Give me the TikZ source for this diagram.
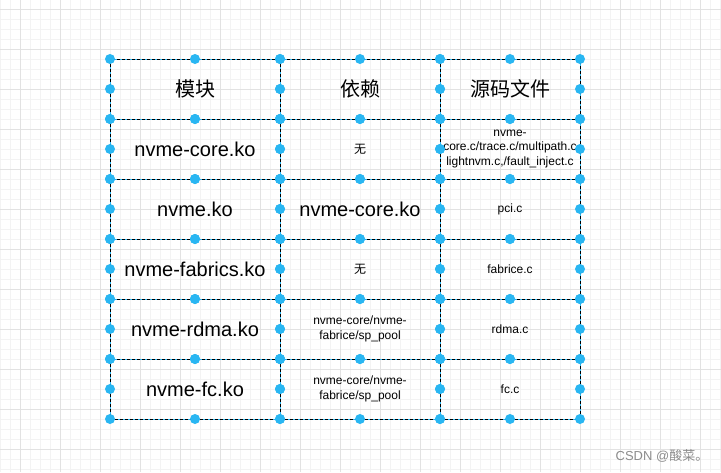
\documentclass[tikz,border=0pt]{standalone}
\usepackage{fontspec}
\setmainfont{Liberation Sans}
\newfontfamily\cjk{Noto Sans CJK SC}
\usetikzlibrary{positioning}
\definecolor{selblue}{HTML}{29B6F2}
\definecolor{gridmajor}{HTML}{E2E2E2}
\definecolor{gridminor}{HTML}{F3F3F3}
\tikzset{
  cell/.style={draw=selblue, line width=1pt, minimum height=60pt, inner sep=0pt,
    outer sep=0pt, align=center,
    postaction={draw=black, line width=0.6pt, dash pattern=on 3pt off 2pt}},
  mod/.style={cell, minimum width=170pt},
  dep/.style={cell, minimum width=160pt},
  src/.style={cell, minimum width=140pt},
  big/.style={font=\fontsize{20}{24}\selectfont},
  small/.style={font=\fontsize{12}{14.5}\selectfont},
  handle/.style={fill=selblue},
  watermark/.style={text=black!45, font=\fontsize{13}{15}\selectfont}
}

\begin{document}
\begin{tikzpicture}[x=1pt, y=1pt, node distance=60pt, on grid]
  \useasboundingbox (0,0) rectangle (721,-472);
  \fill[white] (0,0) rectangle (721,-472);
  % background grid
  \foreach \x in {0,10,...,720} \draw[gridminor, line width=1pt] (\x,0) -- (\x,-472);
  \foreach \y in {9.5,19.5,...,469.5} \draw[gridminor, line width=1pt] (0,-\y) -- (721,-\y);
  \foreach \x in {20,60,...,700} \draw[gridmajor, line width=1pt] (\x,0) -- (\x,-472);
  \foreach \y in {9.5,49.5,...,449.5} \draw[gridmajor, line width=1pt] (0,-\y) -- (721,-\y);

  % header
  \node[mod, big] (mod0) at (195,-89)       {\cjk 模块};
  \node[dep, big] (dep0) [right=165pt of mod0] {\cjk 依赖};
  \node[src, big] (src0) [right=150pt of dep0] {\cjk 源码文件};
  % rows
  \node[mod, big]   (mod1) [below=of mod0] {nvme-core.ko};
  \node[dep, small] (dep1) [below=of dep0] {\cjk 无};
  \node[src, small] (src1) [below=of src0] {nvme-\\core.c/trace.c/multipath.c\\lightnvm.c,/fault\_inject.c};
  \node[mod, big]   (mod2) [below=of mod1] {nvme.ko};
  \node[dep, big]   (dep2) [below=of dep1] {nvme-core.ko};
  \node[src, small] (src2) [below=of src1] {pci.c};
  \node[mod, big]   (mod3) [below=of mod2] {nvme-fabrics.ko};
  \node[dep, small] (dep3) [below=of dep2] {\cjk 无};
  \node[src, small] (src3) [below=of src2] {fabrice.c};
  \node[mod, big]   (mod4) [below=of mod3] {nvme-rdma.ko};
  \node[dep, small] (dep4) [below=of dep3] {nvme-core/nvme-\\fabrice/sp\_pool};
  \node[src, small] (src4) [below=of src3] {rdma.c};
  \node[mod, big]   (mod5) [below=of mod4] {nvme-fc.ko};
  \node[dep, small] (dep5) [below=of dep4] {nvme-core/nvme-\\fabrice/sp\_pool};
  \node[src, small] (src5) [below=of src4] {fc.c};

  % selection handles
  \foreach \c in {mod,dep,src}
    \foreach \r in {0,...,5}
      \foreach \a in {north west,north,north east,east,south east,south,south west,west}
        \fill[handle] (\c\r.\a) circle (5pt);

  \node[watermark] (wm) at (662,-456) {CSDN @{\cjk 酸菜。}};
\end{tikzpicture}
\end{document}
